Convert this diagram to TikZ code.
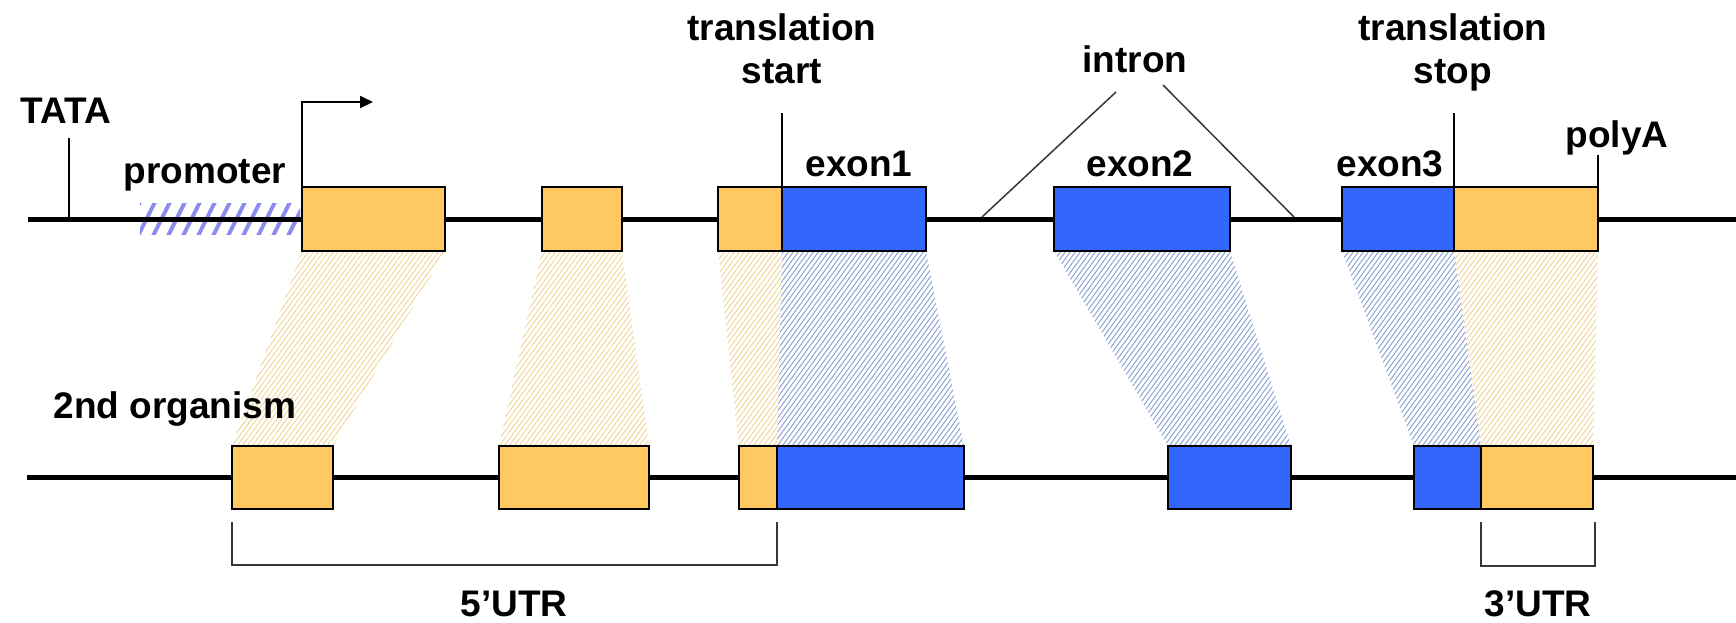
\documentclass[tikz,border=0pt]{standalone}
\usepackage{fontspec}
\setmainfont{Liberation Sans}
\usetikzlibrary{arrows.meta}
\definecolor{orng}{RGB}{254,201,96}
\definecolor{blu}{RGB}{51,102,255}
\definecolor{hatchorange}{RGB}{240,212,148}
\definecolor{hatchblue}{RGB}{132,158,212}
\definecolor{promoblue}{RGB}{140,140,240}
\definecolor{guidegray}{RGB}{55,55,55}
\pgfdeclarelayer{bg}
\pgfsetlayers{bg,main}
\tikzset{
  gbox/.style={draw=black, line width=1pt, inner sep=0pt, outer sep=0pt, anchor=north west},
  utr/.style={gbox, fill=orng},
  cds/.style={gbox, fill=blu},
  dna/.style={line width=2.5pt, black},
  tickline/.style={line width=0.75pt, black},
  guide/.style={line width=0.75pt, guidegray},
  lbl/.style={font=\fontsize{18.5}{21.5}\selectfont\bfseries, inner sep=0pt, anchor=base},
  hatchO/.style={draw=hatchorange, line width=0.45pt},
  hatchB/.style={draw=hatchblue, line width=0.45pt},
  promostripe/.style={draw=promoblue, line width=2pt},
}
% #1 style, #2 name, #3 x1, #4 x2, #5 y1, #6 y2 (pixels)
\newcommand\mkbox[6]{\node[#1, minimum width={(#4-#3)*0.5pt}, minimum height={(#6-#5)*0.5pt}] (#2) at (#3,#5) {};}
% #1 style, #2 top node, #3 bottom node, #4 start x, #5 count
\newcommand\hatchzone[5]{%
  \begin{scope}
    \clip (#2.south west) -- (#2.south east) -- (#3.north east) -- (#3.north west) -- cycle;
    \foreach \k in {0,...,#5} \draw[#1] (#4+5*\k,460) -- ++(160,-220);
  \end{scope}}
\begin{document}
\begin{tikzpicture}[x=0.5pt, y=-0.5pt]
\useasboundingbox (0,0) rectangle (1736,622);

% top row boxes
\mkbox{utr}{T1}{302}{445}{187}{251}
\mkbox{utr}{T2}{542}{622}{187}{251}
\mkbox{utr}{T3}{718}{782}{187}{251}
\mkbox{cds}{E1}{782}{926}{187}{251}
\mkbox{cds}{E2}{1054}{1230}{187}{251}
\mkbox{cds}{E3}{1342}{1454}{187}{251}
\mkbox{utr}{U3}{1454}{1598}{187}{251}

% bottom row boxes
\mkbox{utr}{B1}{232}{333}{446}{509}
\mkbox{utr}{B2}{499}{649}{446}{509}
\mkbox{utr}{B3}{739}{777}{446}{509}
\mkbox{cds}{BE1}{777}{964}{446}{509}
\mkbox{cds}{BE2}{1168}{1291}{446}{509}
\mkbox{cds}{BE3}{1414}{1481}{446}{509}
\mkbox{utr}{BU3}{1481}{1593}{446}{509}

% coordinates
\coordinate (topL) at (28,219);
\coordinate (topR) at (1736,219);
\coordinate (botL) at (27,477);
\coordinate (botR) at (1736,477);
\coordinate (tataTop) at (69,138);
\coordinate (tataBot) at (69,219);
\coordinate (tsTop) at (782,113);
\coordinate (tpTop) at (1454,113);
\coordinate (paTop) at (1598,155);
\coordinate (inL1) at (982,217);
\coordinate (inL2) at (1116,92);
\coordinate (inR1) at (1163,85);
\coordinate (inR2) at (1294,217);
\coordinate (u5a) at (232,522);
\coordinate (u5b) at (777,522);
\coordinate (u3a) at (1481,522);
\coordinate (u3b) at (1595,522);

\begin{pgfonlayer}{bg}
  % promoter hatch
  \begin{scope}
    \clip (140,203) rectangle (300,234);
    \foreach \k in {0,...,12} \draw[promostripe] (122+15*\k,238) -- ++(20,-40);
  \end{scope}
  \draw[dna] (topL) -- (topR);
  \draw[dna] (botL) -- (botR);
  % homology zones
  \hatchzone{hatchO}{T1}{B1}{62}{80}
  \hatchzone{hatchO}{T2}{B2}{329}{66}
  \hatchzone{hatchO}{T3}{B3}{548}{48}
  \hatchzone{hatchB}{E1}{BE1}{607}{73}
  \hatchzone{hatchB}{E2}{BE2}{884}{83}
  \hatchzone{hatchB}{E3}{BE3}{1172}{63}
  \hatchzone{hatchO}{U3}{BU3}{1284}{64}
\end{pgfonlayer}

% transcription start arrow
\draw[line width=1pt, -{Triangle[length=6.5pt,width=6pt]}] (T1.north west) -- ++(0,-85) -- ++(71,0);

% ticks
\draw[tickline] (tataTop) -- (tataBot);
\draw[tickline] (tsTop) -- (T3.north east);
\draw[tickline] (tpTop) -- (E3.north east);
\draw[tickline] (paTop) -- (U3.north east);

% intron lines
\draw[guide] (inL1) -- (inL2);
\draw[guide] (inR1) -- (inR2);

% UTR brackets
\draw[guide] (u5a) -- ++(0,43) -| (u5b);
\draw[guide] (u3a) -- ++(0,44) -| (u3b);

% labels
\node[lbl] (tata) at (66,123) {TATA};
\node[lbl] (promoter) at (205,183) {promoter};
\node[lbl, align=center] (tstart) at (782,83) {translation\\start};
\node[lbl] (ex1) at (859,176) {exon1};
\node[lbl] (intron) at (1135,72) {intron};
\node[lbl] (ex2) at (1140,176) {exon2};
\node[lbl] (ex3) at (1390,176) {exon3};
\node[lbl, align=center] (tstop) at (1453,83) {translation\\stop};
\node[lbl] (polya) at (1617,147) {polyA};
\node[lbl] (org2) at (175,418) {2nd organism};
\node[lbl] (utr5) at (514,616) {5’UTR};
\node[lbl] (utr3) at (1538,616) {3’UTR};
\end{tikzpicture}
\end{document}
